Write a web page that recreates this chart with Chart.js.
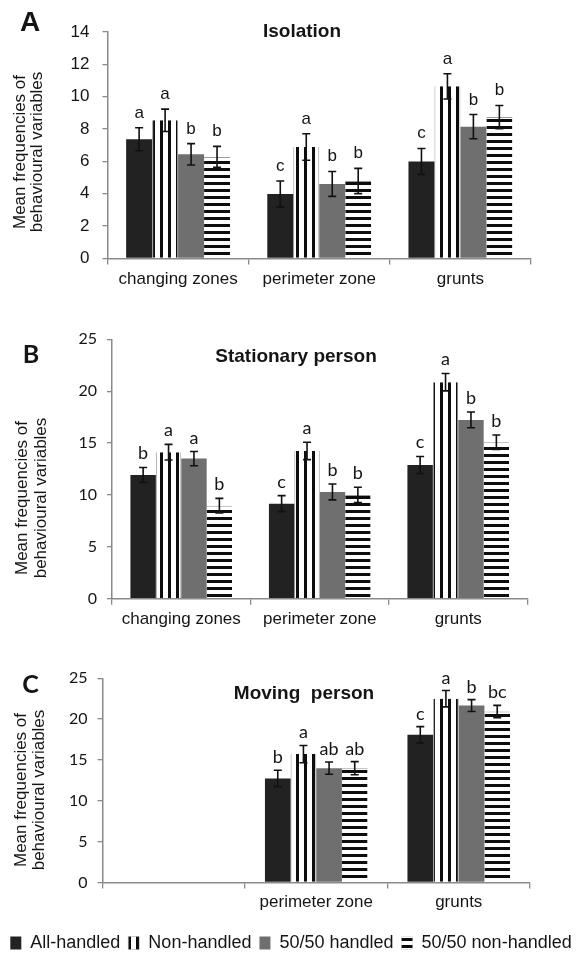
<!DOCTYPE html>
<html>
<head>
<meta charset="utf-8">
<script src="https://cdn.jsdelivr.net/npm/chart.js@4.4.1/dist/chart.umd.min.js"></script>
<style>
    html, body { margin: 0; padding: 0; background: #fff; }
    #page { position: relative; width: 582px; height: 962px; overflow: hidden; }
    #page canvas { position: absolute; left: 0; }
</style>
</head>
<body>
<div id="page">
    <canvas id="chart-a" width="582" height="300" style="top:0px"></canvas>
    <canvas id="chart-b" width="582" height="330" style="top:300px"></canvas>
    <canvas id="chart-c" width="582" height="332" style="top:630px"></canvas>
</div>
<script>
// Categories and groups
var categories = ['changing zones', 'perimeter zone', 'grunts'];
var categoriesMoving = ['', 'perimeter zone', 'grunts'];
var groups = ['All-handled', 'Non-handled', '50/50 handled', '50/50 non-handled'];

// A - Isolation (means, SE, letters per group)
var isolationAllHandled = [7.37, 3.99, 6.0];
var isolationNonHandled = [8.54, 6.89, 10.64];
var isolationHalfHandled = [6.44, 4.61, 8.15];
var isolationHalfNonHandled = [6.28, 4.79, 8.74];
var isolationErrors = [[0.71, 0.8, 0.8], [0.69, 0.82, 0.78], [0.66, 0.77, 0.75], [0.65, 0.78, 0.72]];
var isolationLetters = [['a', 'c', 'c'], ['a', 'a', 'a'], ['b', 'b', 'b'], ['b', 'b', 'b']];
var isolationTicks = {max: 14, step: 2};

// B - Stationary person
var stationaryAllHandled = [11.93, 9.16, 12.89];
var stationaryNonHandled = [14.12, 14.24, 20.87];
var stationaryHalfHandled = [13.5, 10.29, 17.23];
var stationaryHalfNonHandled = [8.97, 10.0, 15.08];
var stationaryErrors = [[0.72, 0.77, 0.82], [0.75, 0.84, 0.84], [0.68, 0.77, 0.76], [0.7, 0.74, 0.7]];
var stationaryLetters = [['b', 'c', 'c'], ['a', 'a', 'a'], ['a', 'b', 'b'], ['b', 'b', 'b']];
var stationaryTicks = {max: 25, step: 5};

// C - Moving person (no data for changing zones)
var movingAllHandled = [0, 12.74, 18.08];
var movingNonHandled = [0, 15.72, 22.5];
var movingHalfHandled = [0, 14.0, 21.66];
var movingHalfNonHandled = [0, 14.0, 20.93];
var movingErrors = [[0, 1.0, 1.0], [0, 1.06, 1.0], [0, 0.75, 0.73], [0, 0.8, 0.75]];
var movingLetters = [['', 'b', 'c'], ['', 'a', 'a'], ['', 'ab', 'b'], ['', 'ab', 'bc']];
var movingTicks = {max: 25, step: 5};

var arial = "'Liberation Sans', Arial, sans-serif",
    calibri = "Lato, 'Open Sans', sans-serif",
    axisColor = '#8a8a8a',
    textColor = '#151515';

/**
 * Striped fill used for the non-handled groups.
 * @param  {string} direction 'vertical' or 'horizontal'
 * @return {CanvasPattern}
 */
function makeStripes(direction) {
    var tile = document.createElement('canvas'),
        tctx = tile.getContext('2d');

    tile.width = 8;
    tile.height = direction === 'vertical' ? 8 : 7;
    tctx.fillStyle = '#fff';
    tctx.fillRect(0, 0, tile.width, tile.height);
    tctx.fillStyle = '#0d0d0d';
    if (direction === 'vertical') {
        tctx.fillRect(0, 0, 3, tile.height);
    } else {
        tctx.fillRect(0, 0, tile.width, 3);
    }

    return tctx.createPattern(tile, 'repeat');
}

var barStyles = [
    {backgroundColor: '#222222', borderWidth: 0},
    {backgroundColor: makeStripes('vertical'), borderColor: '#9a9a9a', borderWidth: {left: 1, right: 1, top: 0, bottom: 0}},
    {backgroundColor: '#6f6f6f', borderWidth: 0},
    {backgroundColor: makeStripes('horizontal'), borderColor: '#9a9a9a', borderWidth: {left: 0, right: 0, top: 1, bottom: 0}}
];

/**
 * Build the four grouped datasets of one panel.
 */
function buildDatasets(series, errors, letters, categoryPercentage) {
    return groups.map(function(name, i) {
        return Object.assign({
            label: name,
            data: series[i],
            errors: errors[i],
            letters: letters[i],
            barPercentage: 1,
            categoryPercentage: categoryPercentage,
            borderSkipped: false
        }, barStyles[i]);
    });
}

// Error bars plus significance letters above them
var errorBarsPlugin = {
    id: 'errorBars',
    afterDatasetsDraw: function(chart, args, opts) {
        var ctx = chart.ctx,
            yScale = chart.scales.y;

        ctx.save();
        chart.data.datasets.forEach(function(ds, i) {
            chart.getDatasetMeta(i).data.forEach(function(bar, j) {
                var err = ds.errors[j];
                if (!err) {
                    return;
                }
                var top = yScale.getPixelForValue(ds.data[j] + err),
                    bottom = yScale.getPixelForValue(ds.data[j] - err);

                ctx.strokeStyle = '#111';
                ctx.lineWidth = 1.6;
                ctx.beginPath();
                ctx.moveTo(bar.x, top);
                ctx.lineTo(bar.x, bottom);
                ctx.moveTo(bar.x - 4, top);
                ctx.lineTo(bar.x + 4, top);
                ctx.moveTo(bar.x - 4, bottom);
                ctx.lineTo(bar.x + 4, bottom);
                ctx.stroke();

                if (ds.letters[j]) {
                    ctx.font = opts.letterFont;
                    ctx.fillStyle = textColor;
                    ctx.textAlign = 'center';
                    ctx.textBaseline = 'alphabetic';
                    ctx.fillText(ds.letters[j], bar.x, top - opts.gap);
                }
            });
        });
        ctx.restore();
    }
};

// Panel letter, heading and the two-line rotated y title
var decorationsPlugin = {
    id: 'decorations',
    afterDraw: function(chart, args, opts) {
        var ctx = chart.ctx;

        ctx.save();
        ctx.fillStyle = textColor;
        ctx.textAlign = 'center';
        ctx.textBaseline = 'middle';

        ctx.font = opts.panel.font;
        ctx.fillText(opts.panel.text, opts.panel.x, opts.panel.y);

        ctx.font = opts.heading.font;
        ctx.fillText(opts.heading.text, opts.heading.x, opts.heading.y);

        ctx.font = opts.yTitle.font;
        opts.yTitle.lines.forEach(function(line, i) {
            ctx.save();
            ctx.translate(opts.yTitle.x[i], opts.yTitle.y);
            ctx.rotate(-Math.PI / 2);
            ctx.fillText(line, 0, 0);
            ctx.restore();
        });
        ctx.restore();
    }
};

/**
 * Init one panel chart.
 * @param  {string} selector canvas id
 * @param  {Object} cfg      layout for this panel
 * @return {Chart}
 */
function initPanel(selector, cfg) {
    var scales = {
        x: {
            grid: {display: true, drawOnChartArea: false, drawTicks: true, tickLength: 6, color: axisColor, lineWidth: 1.3},
            border: {color: axisColor, width: 1.5},
            ticks: {font: {family: arial, size: 17}, color: textColor, padding: cfg.xPadding, maxRotation: 0, autoSkip: false},
            afterFit: function(scale) {
                scale.height = cfg.xHeight;
            }
        },
        y: {
            min: 0,
            max: cfg.ticks.max,
            grid: {display: true, drawOnChartArea: false, drawTicks: true, tickLength: 5, color: axisColor, lineWidth: 1.3},
            border: {color: axisColor, width: 1.5},
            ticks: {stepSize: cfg.ticks.step, font: cfg.tickFont, color: textColor, padding: cfg.yPadding},
            afterFit: function(scale) {
                scale.width = cfg.yWidth;
            }
        }
    };

    // Empty right-hand scale, only keeps the plot narrower than a full-width legend
    if (cfg.rightGutter) {
        scales.gutter = {
            type: 'linear',
            axis: 'y',
            position: 'right',
            grid: {display: false},
            border: {display: false},
            ticks: {display: false},
            afterFit: function(scale) {
                scale.width = cfg.rightGutter;
            }
        };
    }

    return new Chart(document.getElementById(selector).getContext('2d'), {
        type: 'bar',
        data: {
            labels: cfg.labels,
            datasets: cfg.datasets
        },
        options: {
            responsive: false,
            animation: false,
            layout: {padding: cfg.padding},
            scales: scales,
            plugins: {
                legend: cfg.legend || {display: false},
                tooltip: {enabled: false},
                errorBars: {letterFont: cfg.letterFont, gap: cfg.letterGap},
                decorations: cfg.decorations
            }
        },
        plugins: [errorBarsPlugin, decorationsPlugin]
    });
}

var yTitleLines = ['Mean frequencies of', 'behavioural variables'];

initPanel('chart-a', {
    labels: categories,
    datasets: buildDatasets([isolationAllHandled, isolationNonHandled, isolationHalfHandled, isolationHalfNonHandled],
        isolationErrors, isolationLetters, 0.736),
    ticks: isolationTicks,
    padding: {left: 0, right: 51, top: 32, bottom: 0},
    yWidth: 107.5,
    xHeight: 41.5,
    xPadding: 5,
    yPadding: 13,
    tickFont: {family: arial, size: 17},
    letterFont: '17px ' + arial,
    letterGap: 10,
    decorations: {
        panel: {text: 'A', x: 30, y: 23, font: 'bold 28px ' + arial},
        heading: {text: 'Isolation', x: 302, y: 32, font: 'bold 19px ' + arial},
        yTitle: {lines: yTitleLines, x: [20, 37], y: 152, font: '17px ' + arial}
    }
});

initPanel('chart-b', {
    labels: categories,
    datasets: buildDatasets([stationaryAllHandled, stationaryNonHandled, stationaryHalfHandled, stationaryHalfNonHandled],
        stationaryErrors, stationaryLetters, 0.734),
    ticks: stationaryTicks,
    padding: {left: 0, right: 54.5, top: 39.3, bottom: 0},
    yWidth: 112,
    xHeight: 31.3,
    xPadding: 4,
    yPadding: 10,
    tickFont: {family: calibri, size: 16},
    letterFont: '18px ' + calibri,
    letterGap: 8,
    decorations: {
        panel: {text: 'B', x: 31, y: 55, font: 'bold 25px ' + calibri},
        heading: {text: 'Stationary person', x: 296, y: 57, font: 'bold 19px ' + arial},
        yTitle: {lines: yTitleLines, x: [22, 41], y: 198, font: '17px ' + arial}
    }
});

initPanel('chart-c', {
    labels: categoriesMoving,
    datasets: buildDatasets([movingAllHandled, movingNonHandled, movingHalfHandled, movingHalfNonHandled],
        movingErrors, movingLetters, 0.72),
    ticks: movingTicks,
    padding: {left: 0, right: 0, top: 48.3, bottom: 0},
    rightGutter: 52,
    yWidth: 102.5,
    xHeight: 43.5,
    xPadding: 4,
    yPadding: 10,
    tickFont: {family: calibri, size: 16},
    letterFont: '18px ' + calibri,
    letterGap: 7,
    legend: {
        display: true,
        position: 'bottom',
        labels: {font: {family: arial, size: 18}, color: textColor, boxWidth: 11, boxHeight: 13, padding: 8}
    },
    decorations: {
        panel: {text: 'C', x: 30.5, y: 54.5, font: 'bold 25px ' + calibri},
        heading: {text: 'Moving  person', x: 304, y: 64, font: 'bold 19px ' + arial},
        yTitle: {lines: yTitleLines, x: [21, 39], y: 160, font: '17px ' + arial}
    }
});
</script>
</body>
</html>
